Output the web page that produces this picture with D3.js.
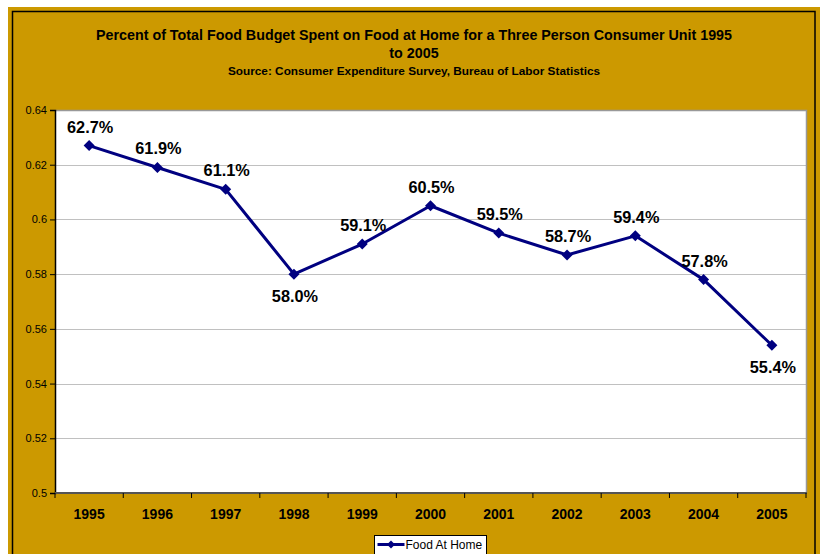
<!DOCTYPE html>
<html>
<head>
<meta charset="utf-8">
<script src="https://cdn.jsdelivr.net/npm/d3@7"></script>
<style>
  html, body { margin: 0; padding: 0; background: #fff; }
  svg { display: block; font-family: "Liberation Sans", Arial, sans-serif; }
</style>
</head>
<body>
<svg id="chart" width="822" height="554"></svg>
<script>
// Share of food budget spent on food at home, three-person consumer unit
const years = ["1995", "1996", "1997", "1998", "1999", "2000", "2001", "2002", "2003", "2004", "2005"];
const foodAtHome = [0.627, 0.619, 0.611, 0.580, 0.591, 0.605, 0.595, 0.587, 0.594, 0.578, 0.554];
const labelBelow = ["1998", "2005"];
const yTicks = [0.5, 0.52, 0.54, 0.56, 0.58, 0.6, 0.62, 0.64];
const seriesName = "Food At Home";
const titleLines = ["Percent of Total Food Budget Spent on Food at Home for a Three Person Consumer Unit 1995", "to 2005"];
const subtitle = "Source: Consumer Expenditure Survey, Bureau of Labor Statistics";

const svg = d3.select("#chart");
const gold = "#CC9900";
const navy = "#000080";

// Chart background and frame
svg.append("rect").attr("x", 8).attr("y", 7).attr("width", 812).attr("height", 560).attr("fill", gold);
svg.append("rect").attr("x", 12.5).attr("y", 11.5).attr("width", 802.5).attr("height", 560)
  .attr("fill", "none").attr("stroke", "#000").attr("stroke-width", 1.5);

// Titles
titleLines.forEach((t, i) => {
  svg.append("text").attr("x", 414).attr("y", 40 + i * 18).attr("text-anchor", "middle")
    .attr("font-size", 14.3).attr("font-weight", "bold").attr("fill", "#000").text(t);
});
svg.append("text").attr("x", 414).attr("y", 74.5).attr("text-anchor", "middle")
  .attr("font-size", 11.8).attr("font-weight", "bold").attr("fill", "#000").text(subtitle);

// Plot area
const plotL = 55, plotR = 806, plotT = 110, plotB = 493;
const x = d3.scaleBand().domain(years).range([plotL, plotR]);
const y = d3.scaleLinear().domain([0.5, 0.64]).range([plotB, plotT]);

svg.append("rect").attr("x", plotL).attr("y", plotT).attr("width", plotR - plotL).attr("height", plotB - plotT)
  .attr("fill", "#fff");

// Gridlines
svg.append("g").selectAll("line").data(yTicks.slice(1, -1)).join("line")
  .attr("x1", plotL).attr("x2", plotR)
  .attr("y1", d => Math.round(y(d)) + 0.5).attr("y2", d => Math.round(y(d)) + 0.5)
  .attr("stroke", "#c0c0c0").attr("stroke-width", 1);

// Plot border (top / right)
svg.append("path").attr("d", `M${plotL},${plotT + 0.5}H${plotR + 0.5}V${plotB}`)
  .attr("fill", "none").attr("stroke", "#999").attr("stroke-width", 1.5);

// Y axis
const yAxis = svg.append("g").attr("transform", `translate(${plotL},0)`)
  .call(d3.axisLeft(y).tickValues(yTicks).tickSize(5).tickPadding(3).tickFormat(d => String(+d.toFixed(2))));
yAxis.select(".domain").attr("stroke", "#000").attr("stroke-width", 1.5);
yAxis.selectAll(".tick line").attr("stroke", "#000");
yAxis.selectAll("text").attr("font-size", 11).attr("fill", "#000")
  .attr("font-family", "Liberation Sans, Arial, sans-serif");

// X axis: ticks sit between categories
const xAxis = svg.append("g").attr("transform", `translate(0,${plotB})`);
const bounds = years.map(d => x(d)).concat([plotR]);
xAxis.append("line").attr("x1", plotL).attr("x2", plotR + 1).attr("y1", 0).attr("y2", 0)
  .attr("stroke", "#555").attr("stroke-width", 2);
xAxis.selectAll("line.tk").data(bounds).join("line").attr("class", "tk")
  .attr("x1", d => d).attr("x2", d => d).attr("y1", 0).attr("y2", 5)
  .attr("stroke", "#000").attr("stroke-width", 1);
xAxis.selectAll("text").data(years).join("text")
  .attr("x", d => x(d) + x.bandwidth() / 2).attr("y", 26)
  .attr("text-anchor", "middle").attr("font-size", 14).attr("font-weight", "bold").attr("fill", "#000")
  .text(d => d);

// Series line and diamond markers
const pts = years.map((yr, i) => ({ yr, v: foodAtHome[i] }));
const cx = d => x(d.yr) + x.bandwidth() / 2;
svg.append("path").datum(pts)
  .attr("d", d3.line().x(cx).y(d => y(d.v)))
  .attr("fill", "none").attr("stroke", navy).attr("stroke-width", 3).attr("stroke-linejoin", "round");

const diamond = "M0,-5.5L5.5,0L0,5.5L-5.5,0Z";
svg.append("g").selectAll("path").data(pts).join("path")
  .attr("transform", d => `translate(${cx(d)},${y(d.v)})`)
  .attr("d", diamond).attr("fill", navy);

// Value labels
svg.append("g").selectAll("text").data(pts).join("text")
  .attr("x", d => cx(d) + 1)
  .attr("y", d => y(d.v) + (labelBelow.includes(d.yr) ? 28 : -13))
  .attr("text-anchor", "middle").attr("font-size", 16.3).attr("font-weight", "bold").attr("fill", "#000")
  .text(d => d3.format(".1%")(d.v));

// Legend
const lg = svg.append("g").attr("transform", "translate(374.5,535.5)");
lg.append("rect").attr("width", 112).attr("height", 22).attr("fill", "#fff").attr("stroke", "#000").attr("stroke-width", 1);
lg.append("line").attr("x1", 3).attr("x2", 30).attr("y1", 9).attr("y2", 9).attr("stroke", navy).attr("stroke-width", 3);
lg.append("path").attr("transform", "translate(16.5,9)").attr("d", "M0,-4L4,0L0,4L-4,0Z").attr("fill", navy);
lg.append("text").attr("x", 31).attr("y", 13).attr("font-size", 12).attr("fill", "#000").text(seriesName);
</script>
</body>
</html>
